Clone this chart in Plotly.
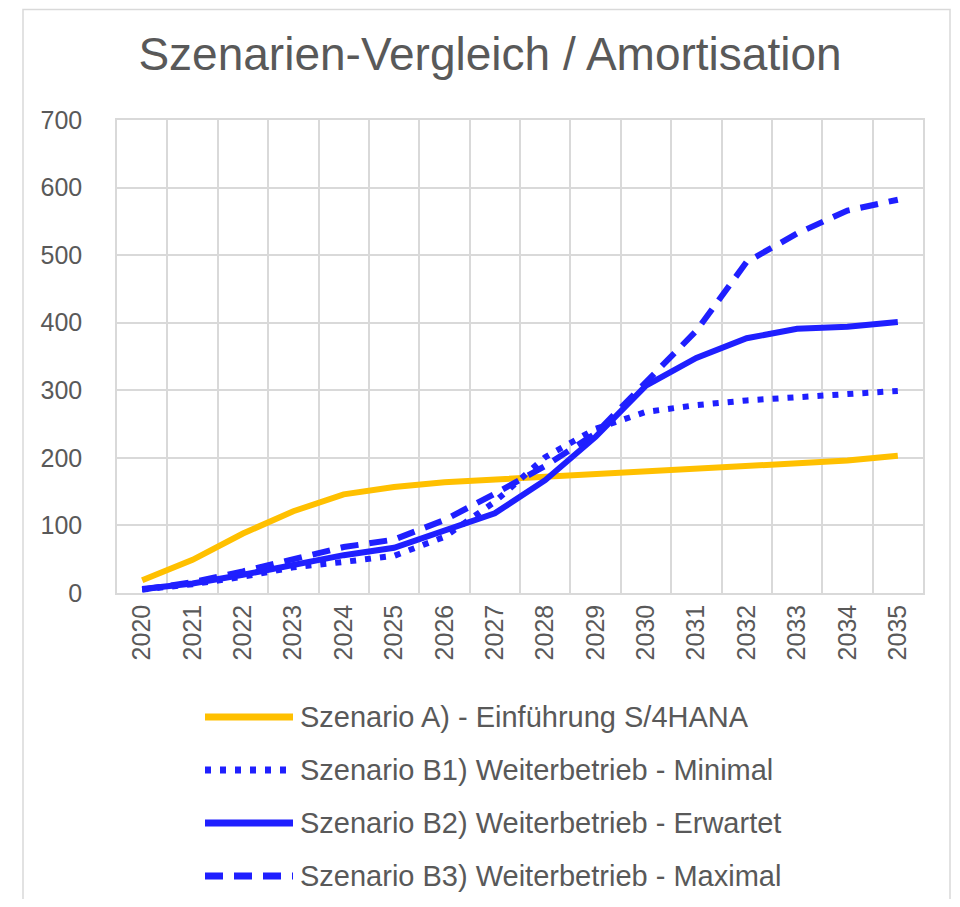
import plotly.graph_objects as go

years = [str(y) for y in range(2020, 2036)]
szenario_a = [19, 49, 88, 121, 146, 157, 164, 168, 171, 175, 181, 185, 189, 193, 196, 203]
szenario_b1 = [5, 13, 24, 38, 46, 55, 83, 135, 201, 243, 268, 278, 285, 289, 293, 299]
szenario_b2 = [6, 14, 27, 41, 56, 67, 93, 118, 167, 231, 307, 348, 377, 391, 394, 401]
szenario_b3 = [5, 16, 32, 51, 68, 79, 108, 147, 188, 236, 312, 388, 490, 532, 566, 582]
names = [
    "Szenario A) - Einführung S/4HANA",
    "Szenario B1) Weiterbetrieb - Minimal",
    "Szenario B2) Weiterbetrieb - Erwartet",
    "Szenario B3) Weiterbetrieb - Maximal",
]

YELLOW = "#FFC000"
BLUE = "#1F1FFF"
TEXT = "#595959"
GRID = "#D9D9D9"
FONT = "Liberation Sans, Arial, sans-serif"

styles = [
    dict(color=YELLOW, width=6, dash="solid"),
    dict(color=BLUE, width=6, dash="6px,9px"),
    dict(color=BLUE, width=6, dash="solid"),
    dict(color=BLUE, width=6, dash="18px,11px"),
]
series = [szenario_a, szenario_b1, szenario_b2, szenario_b3]

fig = go.Figure()
for name, vals, st in zip(names, series, styles):
    fig.add_trace(go.Scatter(x=years, y=vals, mode="lines", name=name,
                             line=st, showlegend=False))

# page offset of the figure (browser body margin)
OFF = 8
FW, FH = 960 - 2 * OFF, 907 - 2 * OFF
# plot area geometry in page pixels
L, R, T, B = 117, 923, 120, 593
W, H = R - L, B - T
def px(x):
    return (x - L) / W
def py(y):
    return (B - y) / H

shapes = [dict(type="rect", xref="paper", yref="paper",
               x0=px(23), x1=px(950), y0=py(920), y1=py(9.5),
               line=dict(color=GRID, width=1.5), layer="below")]
annotations = []
rows = [717, 770, 823, 876]
for name, st, ry in zip(names, styles, rows):
    shapes.append(dict(type="line", xref="paper", yref="paper",
                       x0=px(205), x1=px(293), y0=py(ry), y1=py(ry),
                       line=dict(color=st["color"], width=st["width"] + 1, dash=st["dash"])))
    annotations.append(dict(xref="paper", yref="paper", x=px(298), y=py(ry),
                            xanchor="left", yanchor="middle", showarrow=False,
                            text=name, font=dict(family=FONT, size=29, color=TEXT)))

fig.update_layout(
    width=FW, height=FH,
    margin=dict(l=L - OFF, r=OFF + FW - R, t=T - OFF, b=OFF + FH - B),
    paper_bgcolor="white", plot_bgcolor="white",
    title=dict(text="Szenarien-Vergleich / Amortisation", x=(490 - OFF) / FW, xanchor="center",
               y=1 - (54 - OFF) / FH, yanchor="middle",
               font=dict(family=FONT, size=46, color=TEXT)),
    shapes=shapes, annotations=annotations,
    showlegend=False,
)
fig.update_xaxes(type="category", range=[-0.5, 15.5], tickson="boundaries",
                 showgrid=True, gridcolor=GRID, gridwidth=1.5,
                 showline=True, linecolor=GRID, linewidth=1.5, mirror=True,
                 ticks="outside", ticklen=18, tickcolor="rgba(0,0,0,0)",
                 tickangle=-90, tickfont=dict(family=FONT, size=25, color=TEXT))
fig.update_yaxes(range=[0, 700], dtick=100, showgrid=True, gridcolor=GRID, gridwidth=1.5,
                 zeroline=False, showline=True, linecolor=GRID, linewidth=1.5, mirror=True,
                 ticks="outside", ticklen=28, tickcolor="rgba(0,0,0,0)",
                 tickfont=dict(family=FONT, size=25, color=TEXT))

fig.write_html("out.html")
